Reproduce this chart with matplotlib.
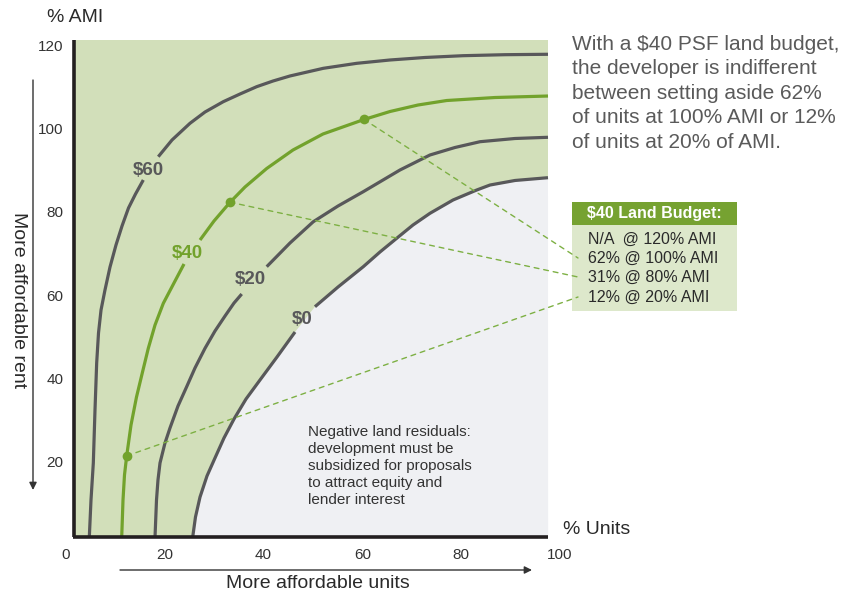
import matplotlib
matplotlib.use("Agg")
import matplotlib.pyplot as plt
import numpy as np
from matplotlib.patches import Rectangle

plt.rcParams['font.family'] = ['Liberation Sans', 'DejaVu Sans']

nan = np.nan

# land-residual iso-curves: (% units, % AMI)
# nan marks the break in each line where its label sits
units_60 = [4.72, 5.06, 5.53, 5.87, 6.21, 6.58, 7.09, 7.89, 8.91, 10.12, 11.34,
            12.65, 14.07, 15.65, nan, 18.68, 21.46, 25.10, 28.14, 31.84, 35.22,
            38.60, 41.90, 45.34, 52.08, 58.85, 65.59, 72.67, 80.36, 88.87, 97.57]
ami_60 = [1.92, 10.80, 19.69, 32.41, 43.70, 50.90, 56.42, 61.22, 66.75, 72.03,
          76.59, 80.91, 84.27, 87.64, nan, 93.23, 97.24, 101.25, 103.96, 106.44,
          108.28, 110.04, 111.40, 112.61, 114.45, 115.65, 116.45, 117.05,
          117.48, 117.72, 117.82]

units_40 = [11.28, 11.54, 11.84, 12.29, 13.16, 14.27, 15.49, 16.66, 18.02, 19.70,
            21.86, 23.89, nan, 27.13, 29.96, 33.20, 36.23, 40.63, 45.95, 52.02,
            60.32, 65.59, 71.26, 77.06, 86.84, 97.57]
ami_40 = [1.92, 10.80, 16.81, 21.44, 28.81, 35.53, 41.54, 47.23, 52.82, 58.03,
          62.91, 67.47, nan, 73.23, 77.79, 82.28, 85.95, 90.40, 94.84, 98.68,
          102.16, 104.08, 105.64, 106.72, 107.44, 107.80]

units_20 = [18.02, 18.32, 18.62, 19.03, 20.04, 21.05, 22.67, 24.43, 26.11, 28.14,
            30.16, 32.19, 34.01, 35.57, nan, 40.63, 45.34, 50.06, 55.06, 60.18,
            67.61, 73.68, 78.74, 83.81, 90.89, 97.57]
ami_20 = [1.92, 10.80, 15.61, 19.69, 24.49, 28.09, 33.37, 38.01, 42.50, 47.23,
          51.38, 54.98, 58.10, 60.26, nan, 66.82, 72.51, 77.62, 81.39, 84.83,
          90.04, 93.64, 95.44, 96.83, 97.60, 97.89]

units_0 = [25.65, 26.21, 27.13, 28.54, 30.16, 31.98, 34.01, 36.44, 39.27, 42.71,
           46.36, nan, 50.40, 55.06, 60.18, 63.56, 66.94, 70.24, 73.68, 78.34,
           83.14, 85.83, 90.89, 97.57]
ami_0 = [1.92, 6.72, 11.52, 16.57, 20.89, 25.69, 30.25, 35.05, 39.62, 45.14,
         51.14, nan, 57.21, 61.94, 66.82, 70.35, 73.64, 76.83, 79.64, 82.83,
         85.23, 86.43, 87.52, 88.19]

curve_labels = ['$60', '$40', '$20', '$0']
label_units = [16.6, 24.5, 37.3, 47.9]
label_ami = [90.0, 70.0, 63.8, 54.2]

# $40 budget points and their table rows
dot_units = [12.3, 33.2, 60.3]
dot_ami = [21.4, 82.3, 102.2]
budget_title = '$40 Land Budget:'
budget_rows = ['N/A  @ 120% AMI', '62% @ 100% AMI', '31% @ 80% AMI', '12% @ 20% AMI']

x_ticks = [0, 20, 40, 60, 80, 100]
y_ticks = [20, 40, 60, 80, 100, 120]

note_top = ('With a $40 PSF land budget,\nthe developer is indifferent\n'
            'between setting aside 62%\nof units at 100% AMI or 12%\n'
            'of units at 20% of AMI.')
note_neg = ('Negative land residuals:\ndevelopment must be\n'
            'subsidized for proposals\nto attract equity and\nlender interest')

GREEN_BG = '#d2dfba'
GRAY_BG = '#eff0f3'
DARK = '#58585a'
GREEN = '#72a22c'
DASH = '#7db043'
HEAD = '#76a231'
BODY = '#dde8cb'
TXT = '#2a2a2a'

W, H = 844, 595


def fp(x, y):
    # figure pixel (from top-left) -> figure fraction
    return (x / W, 1 - y / H)


def esc(s):
    return s.replace('$', r'\$')


fig = plt.figure(figsize=(W / 100, H / 100), dpi=100)
ax = fig.add_axes([66 / W, 50 / H, 494 / W, 122 * 4.165 / H])
ax.set_xlim(0, 100)
ax.set_ylim(0, 122)
ax.set_facecolor('none')
for s in ax.spines.values():
    s.set_visible(False)
ax.set_xticks(x_ticks)
ax.set_yticks(y_ticks)
ax.tick_params(length=0, labelsize=11, colors='#333333', pad=2)

# plot box: green field, grey negative region, heavy L-shaped frame
x0, y0, x1, y1 = 1.6, 1.9, 97.6, 121.2
ax.add_patch(Rectangle((x0, y0), x1 - x0, y1 - y0, facecolor=GREEN_BG,
                       edgecolor='none', zorder=0))
neg_u = [u for u in units_0 if u == u] + [x1]
neg_a = [a for a in ami_0 if a == a] + [y0]
ax.fill(neg_u, neg_a, color=GRAY_BG, lw=0, zorder=1)

for xs, ys, c in [(units_60, ami_60, DARK), (units_40, ami_40, GREEN),
                  (units_20, ami_20, DARK), (units_0, ami_0, DARK)]:
    ax.plot(xs, ys, color=c, lw=2.3, solid_capstyle='butt',
            solid_joinstyle='round', zorder=3)

ax.plot([x0, x0], [y0, y1], color='#231f20', lw=2.6, zorder=7,
        solid_capstyle='butt')
ax.plot([x0 - 0.25, x1], [y0, y0], color='#231f20', lw=2.6, zorder=7,
        solid_capstyle='butt')

for lab, u, a in zip(curve_labels, label_units, label_ami):
    c = GREEN if lab == '$40' else DARK
    ax.text(u, a, esc(lab), ha='center', va='center', fontsize=13.5,
            fontweight='bold', color=c, zorder=5)

# dashed connectors from the $40 points to the table rows
row_y = [239, 258, 277, 297]
targets = [row_y[3], row_y[2], row_y[1]]
for u, a, ty in zip(dot_units, dot_ami, targets):
    ax.annotate('', xy=fp(578, ty), xycoords='figure fraction',
                xytext=(u, a), textcoords='data', annotation_clip=False,
                arrowprops=dict(arrowstyle='-', color=DASH, lw=1.0,
                                linestyle=(0, (3.5, 3.5)),
                                shrinkA=0, shrinkB=0), zorder=4)
ax.plot(dot_units, dot_ami, 'o', ms=7, color=GREEN, mec='none', zorder=6)

# table
fig.patches.append(Rectangle(fp(572, 225), 165 / W, 23 / H,
                             transform=fig.transFigure, fc=HEAD, ec='none',
                             zorder=-1))
fig.patches.append(Rectangle(fp(572, 311), 165 / W, 86 / H,
                             transform=fig.transFigure, fc=BODY, ec='none',
                             zorder=-1))
fig.text(*fp(654.5, 213), esc(budget_title), ha='center', va='center',
         fontsize=11.5, fontweight='bold', color='white')
for r, y in zip(budget_rows, row_y):
    fig.text(*fp(588, y), r, ha='left', va='center', fontsize=11.5, color=TXT)

# axis captions and direction arrows
fig.text(*fp(47, 17), '% AMI', fontsize=14, ha='left', va='center', color=TXT)
fig.text(*fp(563, 530), '% Units', fontsize=14, ha='left', va='center',
         color=TXT)
fig.text(*fp(318, 584), 'More affordable units', fontsize=14, ha='center',
         va='center', color=TXT)
fig.text(*fp(18, 300), 'More affordable rent', fontsize=14, rotation=-90,
         ha='center', va='center', color=TXT)
arrow = dict(arrowstyle='-|>', color='#333333', lw=1.0, mutation_scale=11,
             shrinkA=0, shrinkB=0)
ax.annotate('', xy=fp(33, 490), xycoords='figure fraction',
            xytext=fp(33, 80), textcoords='figure fraction', arrowprops=arrow)
ax.annotate('', xy=fp(532, 570), xycoords='figure fraction',
            xytext=fp(120, 570), textcoords='figure fraction', arrowprops=arrow)

fig.text(*fp(572, 35), esc(note_top), fontsize=15, ha='left', va='top',
         color='#5a5a5a', linespacing=1.36)
fig.text(*fp(308, 425), note_neg, fontsize=11, ha='left', va='top',
         color='#333333', linespacing=1.28)

fig.savefig('out.png', dpi=100, facecolor='white')
